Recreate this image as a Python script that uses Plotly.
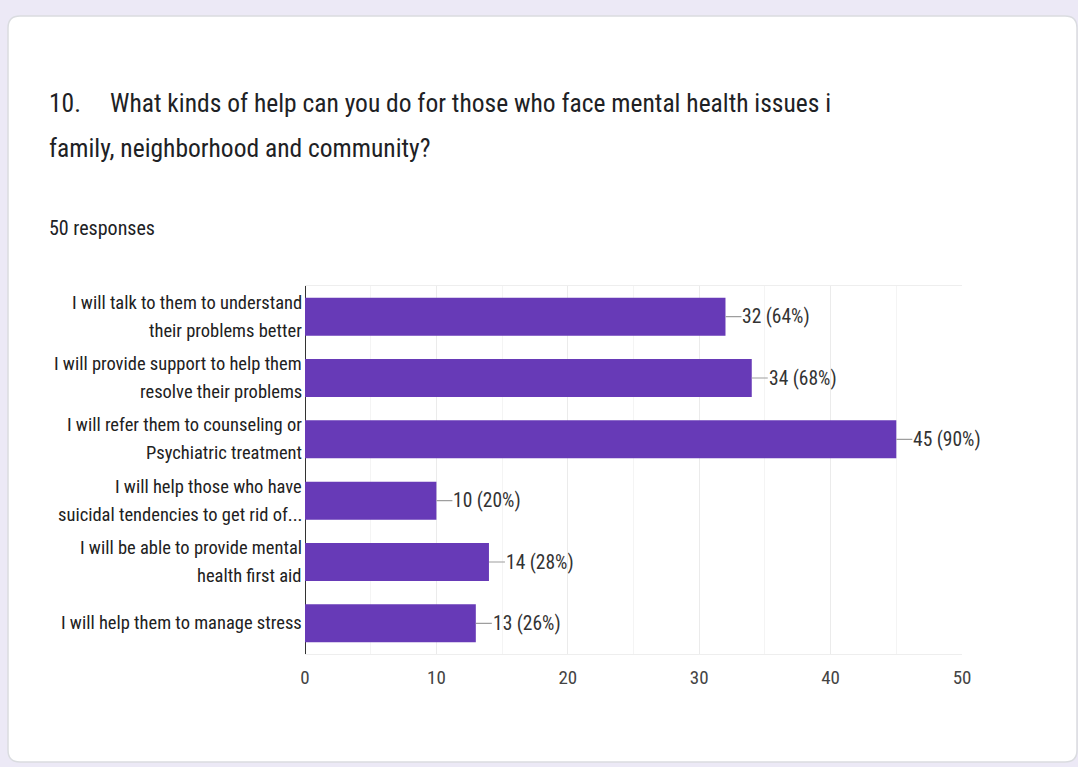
import plotly.graph_objects as go

categories = [
    "I will talk to them to understand\ntheir problems better",
    "I will provide support to help them\nresolve their problems",
    "I will refer them to counseling or\nPsychiatric treatment",
    "I will help those who have\nsuicidal tendencies to get rid of...",
    "I will be able to provide mental\nhealth first aid",
    "I will help them to manage stress",
]
counts = [32, 34, 45, 10, 14, 13]
percents = [64, 68, 90, 20, 28, 26]
x_ticks = [0, 10, 20, 30, 40, 50]
title_num = "10."
title_line1 = "What kinds of help can you do for those who face mental health issues i"
title_line2 = "family, neighborhood and community?"
subtitle = "50 responses"

W, H = 1078, 767
L, R, T, B = 305, 962, 286, 654
FONT = "Liberation Sans Narrow, Arial Narrow, Roboto Condensed, DejaVu Sans Condensed, Roboto, sans-serif"
PURPLE = "#673ab7"

def px(x):
    return (x - L) / (R - L)

def py(y):
    return (B - y) / (B - T)

ids = list(range(len(categories)))

fig = go.Figure()
fig.add_trace(go.Bar(
    x=counts, y=ids, orientation="h",
    marker=dict(color=PURPLE, line=dict(width=0)),
    width=0.62, hoverinfo="skip",
))

annotations = []
# category labels (two lines each)
for i, cat in enumerate(categories):
    lines = cat.split("\n")
    n = len(lines)
    for j, ln in enumerate(lines):
        shift = (n - 1) / 2 * 28 - j * 28
        annotations.append(dict(
            x=0, xref="paper", xshift=-1, y=i, yref="y", yshift=shift,
            text=ln, showarrow=False, xanchor="right", yanchor="middle",
            font=dict(family=FONT, size=18.5, color="#212121"),
        ))
# value labels with leader lines
for i, (c, p) in enumerate(zip(counts, percents)):
    annotations.append(dict(
        x=c, y=i, xref="x", yref="y", text=f"{c} ({p}%)",
        showarrow=True, arrowhead=0, arrowwidth=1.2, arrowcolor="#9e9e9e",
        ax=16, ay=0, xanchor="left", yanchor="middle", standoff=0, borderpad=0,
        font=dict(family=FONT, size=19.5, color="#333333"),
    ))
# titles
TF = dict(family=FONT, size=25.5, color="#202124")
annotations.append(dict(x=px(47), xref="paper", y=py(103), yref="paper", text=title_num,
                        showarrow=False, xanchor="left", yanchor="middle", font=TF))
annotations.append(dict(x=px(108), xref="paper", y=py(103), yref="paper", text=title_line1,
                        showarrow=False, xanchor="left", yanchor="middle", font=TF))
annotations.append(dict(x=px(47), xref="paper", y=py(148), yref="paper", text=title_line2,
                        showarrow=False, xanchor="left", yanchor="middle", font=TF))
annotations.append(dict(x=px(47), xref="paper", y=py(228), yref="paper", text=subtitle,
                        showarrow=False, xanchor="left", yanchor="middle",
                        font=dict(family=FONT, size=20, color="#202124")))

# card shape with rounded corners
x0, x1, y0, y1, r = 8, 1077, 16, 762, 12
def P(x, y):
    return f"{px(x):.5f},{py(y):.5f}"
path = (f"M {P(x0 + r, y0)} L {P(x1 - r, y0)} Q {P(x1, y0)} {P(x1, y0 + r)} "
        f"L {P(x1, y1 - r)} Q {P(x1, y1)} {P(x1 - r, y1)} "
        f"L {P(x0 + r, y1)} Q {P(x0, y1)} {P(x0, y1 - r)} "
        f"L {P(x0, y0 + r)} Q {P(x0, y0)} {P(x0 + r, y0)} Z")
shapes = [dict(type="path", path=path, xref="paper", yref="paper",
               fillcolor="white", line=dict(color="#dadce0", width=1.5), layer="below")]

fig.update_layout(
    width=W, height=H,
    margin=dict(l=L, r=W - R, t=T, b=H - B, pad=0),
    paper_bgcolor="#ece9f6", plot_bgcolor="rgba(0,0,0,0)",
    showlegend=False, bargap=0.38,
    annotations=annotations, shapes=shapes,
    xaxis=dict(range=[0, 50], tickvals=x_ticks, ticktext=[str(v) for v in x_ticks],
               showgrid=True, gridcolor="#ebebeb", gridwidth=1,
               minor=dict(dtick=5, showgrid=True, gridcolor="#f4f4f4", gridwidth=1),
               zeroline=True, zerolinecolor="#333333", zerolinewidth=1.2,
               showline=True, linecolor="#eeeeee", linewidth=1, mirror=True,
               ticks="", ticklabelstandoff=6,
               tickfont=dict(family=FONT, size=19, color="#444444"), fixedrange=True),
    yaxis=dict(range=[len(categories) - 0.5, -0.5], showticklabels=False, showgrid=False,
               zeroline=False, showline=False, ticks="", fixedrange=True),
)

fig.write_html("out.html")
